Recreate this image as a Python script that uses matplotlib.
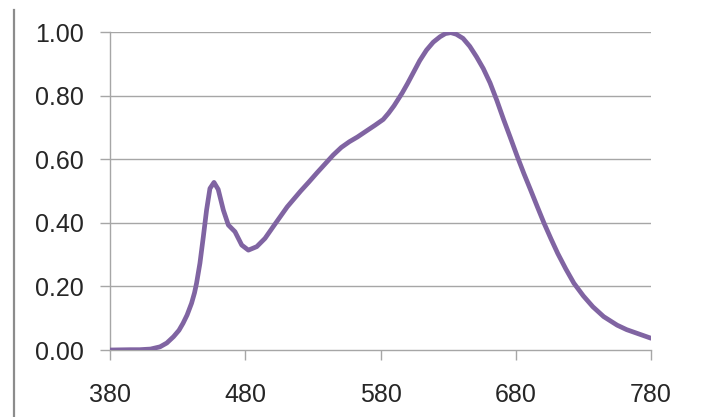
import matplotlib
matplotlib.use("Agg")
import matplotlib.pyplot as plt
from matplotlib.lines import Line2D

# Relative spectral power distribution
wavelength_nm = [380, 395, 402, 410, 417, 422, 427, 431, 434, 437, 440.3, 442.5,
                 444, 446.5, 449, 451.4, 453.9, 456.9, 460, 463.8, 467.5, 472.4,
                 477.4, 482.3, 488.5, 494.6, 501, 506, 511, 516, 521, 527, 533,
                 539, 545, 551, 557, 563, 570, 576, 582, 586, 590, 596, 600, 604,
                 609, 614, 619, 624, 628, 632, 636, 641, 646, 651, 656, 661, 666,
                 671, 676, 681, 686, 691, 696, 701, 706, 711, 717, 723, 730, 737,
                 745, 755, 762, 770, 780]
relative_power = [0.000, 0.001, 0.001, 0.003, 0.010, 0.022, 0.042, 0.062, 0.084,
                  0.110, 0.147, 0.180, 0.210, 0.273, 0.356, 0.440, 0.508, 0.527,
                  0.505, 0.440, 0.393, 0.372, 0.330, 0.314, 0.325, 0.351, 0.390,
                  0.420, 0.450, 0.475, 0.500, 0.528, 0.557, 0.585, 0.613, 0.637,
                  0.655, 0.670, 0.690, 0.707, 0.725, 0.745, 0.768, 0.808, 0.838,
                  0.870, 0.910, 0.943, 0.968, 0.985, 0.995, 0.998, 0.993, 0.980,
                  0.955, 0.922, 0.885, 0.840, 0.785, 0.725, 0.668, 0.610, 0.555,
                  0.503, 0.450, 0.398, 0.350, 0.304, 0.255, 0.210, 0.170, 0.136,
                  0.105, 0.078, 0.064, 0.052, 0.037]

x_ticks = [380, 480, 580, 680, 780]
y_ticks = [0.0, 0.2, 0.4, 0.6, 0.8, 1.0]
y_tick_labels = ["0.00", "0.20", "0.40", "0.60", "0.80", "1.00"]

plt.rcParams["font.family"] = ["Liberation Sans", "DejaVu Sans"]

fig = plt.figure(figsize=(7.02, 4.17), dpi=100)
fig.patch.set_facecolor("white")
ax = fig.add_axes([110 / 702, 67 / 417, 541 / 702, 318 / 417])

grid_color = "#A6A6A6"
ax.plot(wavelength_nm, relative_power, color="#8064A2", linewidth=3.4,
        solid_capstyle="round", solid_joinstyle="round", zorder=3)

ax.set_xlim(380, 780)
ax.set_ylim(0, 1.0)
ax.set_xticks(x_ticks)
ax.set_yticks(y_ticks)
ax.set_yticklabels(y_tick_labels)

for y in y_ticks[1:]:
    ax.axhline(y, color=grid_color, linewidth=1.0, zorder=1)

for side in ("top", "right"):
    ax.spines[side].set_visible(False)
for side in ("left", "bottom"):
    ax.spines[side].set_color(grid_color)
    ax.spines[side].set_linewidth(1.0)

ax.tick_params(axis="both", direction="out", length=7, width=1.0,
               color=grid_color, labelsize=18, labelcolor="#262626")
ax.tick_params(axis="y", pad=12)
ax.tick_params(axis="x", pad=17)

# frame line on the left edge of the figure
fig.add_artist(Line2D([14 / 702, 14 / 702], [0, 1 - 10 / 417],
                      transform=fig.transFigure, color="#8C8C8C", linewidth=1.6))

fig.savefig("out.png", dpi=100, facecolor="white")
